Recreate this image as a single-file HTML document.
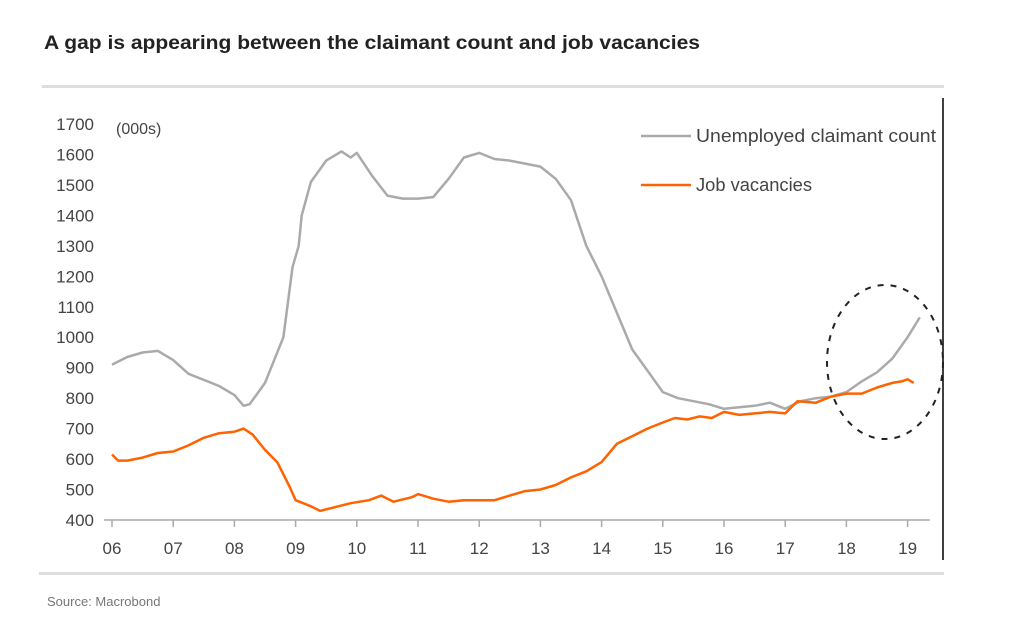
<!DOCTYPE html>
<html><head><meta charset="utf-8"><style>
html,body{margin:0;padding:0;background:#fff;width:1014px;height:626px;overflow:hidden}
svg{display:block;font-family:"Liberation Sans",sans-serif}
</style></head><body>
<svg id="chart" width="1014" height="626">
<text x="44" y="49" font-size="19" font-weight="bold" fill="#222" textLength="656" lengthAdjust="spacingAndGlyphs">A gap is appearing between the claimant count and job vacancies</text>
<rect x="42" y="85" width="902" height="3" fill="#dddddd"/>
<rect x="39" y="572" width="905" height="3" fill="#dddddd"/>
<line x1="943" y1="98" x2="943" y2="560" stroke="#000" stroke-width="1.5"/>
<text x="47" y="606" font-size="13" fill="#777">Source: Macrobond</text>
<text x="116" y="134" font-size="16" fill="#444">(000s)</text>
<g id="yaxis"></g>
<g id="xaxis"></g>
<g id="series"></g>
<g>
<line x1="641" y1="136" x2="691" y2="136" stroke="#aaaaaa" stroke-width="2.5"/>
<text x="696" y="142" font-size="18" fill="#444" textLength="240" lengthAdjust="spacingAndGlyphs">Unemployed claimant count</text>
<line x1="641" y1="185" x2="691" y2="185" stroke="#ff6200" stroke-width="2.5"/>
<text x="696" y="191" font-size="18" fill="#444" textLength="116" lengthAdjust="spacingAndGlyphs">Job vacancies</text>
</g>
<ellipse cx="885" cy="362" rx="58" ry="77" fill="none" stroke="#222" stroke-width="2" stroke-dasharray="6,7"/>
</svg>
<script>
const yTicks=[400,500,600,700,800,900,1000,1100,1200,1300,1400,1500,1600,1700];
const xTickYears=[2006,2007,2008,2009,2010,2011,2012,2013,2014,2015,2016,2017,2018,2019];
const xTickLabels=["06","07","08","09","10","11","12","13","14","15","16","17","18","19"];
const claimantDates=[2006,2006.25,2006.5,2006.75,2007,2007.25,2007.5,2007.75,2008,2008.15,2008.25,2008.5,2008.8,2008.95,2009.05,2009.1,2009.25,2009.5,2009.75,2009.9,2010,2010.25,2010.5,2010.75,2011,2011.25,2011.5,2011.75,2012,2012.25,2012.5,2012.75,2013,2013.25,2013.5,2013.75,2014,2014.25,2014.5,2014.75,2015,2015.25,2015.5,2015.75,2016,2016.25,2016.5,2016.75,2017,2017.25,2017.5,2017.75,2018,2018.25,2018.5,2018.75,2019,2019.2];
const claimantValues=[910,935,950,955,925,880,860,840,810,775,780,850,1000,1230,1300,1400,1510,1580,1610,1590,1605,1530,1465,1455,1455,1460,1520,1590,1605,1585,1580,1570,1560,1520,1450,1300,1200,1080,960,890,820,800,790,780,765,770,775,785,765,790,800,805,820,855,885,930,1000,1065];
const vacancyDates=[2006,2006.1,2006.25,2006.5,2006.75,2007,2007.25,2007.5,2007.75,2008,2008.15,2008.3,2008.5,2008.7,2008.9,2009,2009.25,2009.4,2009.6,2009.9,2010.2,2010.4,2010.6,2010.9,2011,2011.25,2011.5,2011.75,2012,2012.25,2012.5,2012.75,2013,2013.25,2013.5,2013.75,2014,2014.25,2014.5,2014.75,2015,2015.2,2015.4,2015.6,2015.8,2016,2016.25,2016.5,2016.75,2017,2017.2,2017.5,2017.75,2018,2018.25,2018.5,2018.75,2018.9,2019,2019.1];
const vacancyValues=[615,595,595,605,620,625,645,670,685,690,700,680,630,590,510,465,445,430,440,455,465,480,460,475,485,470,460,465,465,465,480,495,500,515,540,560,590,650,675,700,720,735,730,740,735,755,745,750,755,750,790,785,805,815,815,835,850,855,862,850];
const ns="http://www.w3.org/2000/svg";
const X=y=>112+(y-2006)*61.2;
const Y=v=>520-(v-400)*(396/1300);
function mk(t,a,p){const e=document.createElementNS(ns,t);for(const k in a)e.setAttribute(k,a[k]);p.appendChild(e);return e;}
const ya=document.getElementById('yaxis');
yTicks.forEach(v=>{const t=mk('text',{x:94,y:Y(v)+6,'text-anchor':'end','font-size':17,fill:'#444'},ya);t.textContent=v;

});
const xa=document.getElementById('xaxis');
const base=mk('line',{x1:104,y1:520,x2:930,y2:520,stroke:'#aaa','stroke-width':1.5},xa);


xTickYears.forEach((y,i)=>{const l=mk('line',{x1:X(y),y1:520,x2:X(y),y2:527,stroke:'#aaa','stroke-width':1.5},xa);


const t=mk('text',{x:X(y),y:554,'text-anchor':'middle','font-size':17,fill:'#444'},xa);t.textContent=xTickLabels[i];

});
const sg=document.getElementById('series');
function path(ds,vs){return ds.map((d,i)=>(i?'L':'M')+X(d).toFixed(1)+','+Y(vs[i]).toFixed(1)).join('');}
const c=mk('path',{d:path(claimantDates,claimantValues),fill:'none',stroke:'#aaaaaa','stroke-width':2.5,'stroke-linejoin':'round'},sg);


const v=mk('path',{d:path(vacancyDates,vacancyValues),fill:'none',stroke:'#ff6200','stroke-width':2.5,'stroke-linejoin':'round'},sg);


</script>
</body></html>
